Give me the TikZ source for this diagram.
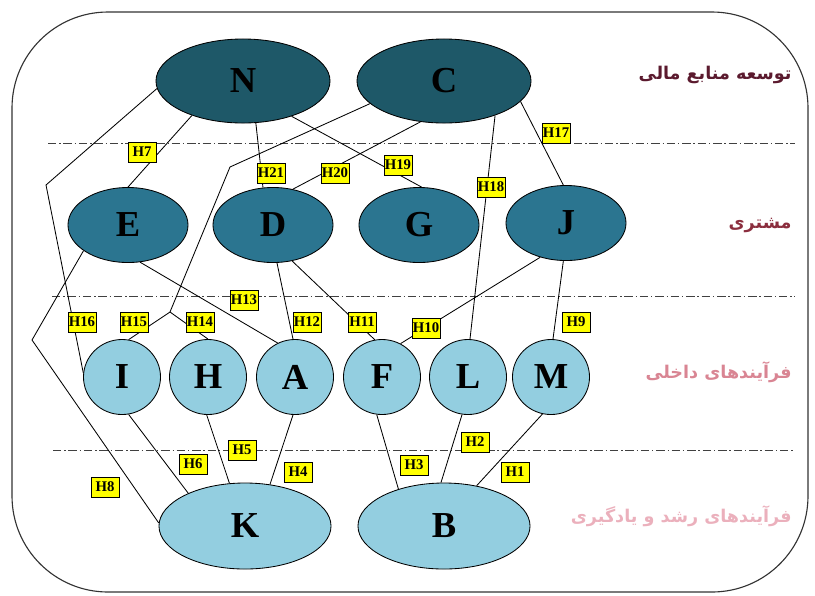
\documentclass[tikz,border=0pt]{standalone}
\usepackage{fontspec}
\setmainfont{Liberation Serif}
\newfontfamily\arabicfont[Script=Arabic]{DejaVu Sans}
\TeXXeTstate=1
\usepackage{tikz}
\usetikzlibrary{shapes.geometric}
\definecolor{topteal}{HTML}{1E5868}
\definecolor{midteal}{HTML}{2B7590}
\definecolor{lightteal}{HTML}{93CEE0}
\definecolor{hypyellow}{HTML}{FFFF00}
\definecolor{finred}{HTML}{5B1A2E}
\definecolor{custred}{HTML}{8B2E3E}
\definecolor{procpink}{HTML}{D98593}
\definecolor{learnpink}{HTML}{EBB0BC}

\begin{document}
\begin{tikzpicture}[x=0.025cm,y=-0.025cm,
  goal/.style={ellipse,draw=black,line width=0.6pt,inner sep=0pt,font=\fontsize{26}{26}\selectfont\bfseries},
  fin/.style={goal,fill=topteal,minimum width=4.35cm,minimum height=2.1cm},
  cust/.style={goal,fill=midteal,minimum width=3cm,minimum height=1.875cm},
  proc/.style={goal,fill=lightteal,minimum width=1.925cm,minimum height=1.875cm},
  learn/.style={goal,fill=lightteal,minimum width=4.3cm,minimum height=2.15cm},
  hyp/.style={draw=black,fill=hypyellow,line width=0.5pt,inner sep=0.5pt,minimum width=0.7cm,minimum height=0.5cm,font=\fontsize{10.5}{10.5}\selectfont\bfseries},
  layer/.style={anchor=east,inner sep=0pt,font=\arabicfont\bfseries\fontsize{12.5}{12.5}\selectfont},
  sep/.style={line width=0.6pt,black!75,dash pattern=on 6pt off 2pt on 1pt off 2pt},
  every path/.append style={line width=0.6pt}]
\useasboundingbox (0,0) rectangle (815,595);
\draw[line width=0.8pt,black!80,rounded corners=2.4cm] (12,12) rectangle (808,592);
\draw[sep] (48,143) to (795,143);
\draw[sep] (52,296) to (795,296);
\draw[sep] (53,450) to (795,450);
\node[layer,text=finred] (lfin) at (792,75) {\beginR توسعه منابع مالی\endR};
\node[layer,text=custred] (lcust) at (792,225) {\beginR مشتری\endR};
\node[layer,text=procpink] (lproc) at (792,372) {\beginR فرآیندهای داخلی\endR};
\node[layer,text=learnpink] (llearn) at (792,516) {\beginR فرآیندهای رشد و یادگیری\endR};
\node[fin] (N) at (243,81) {N};
\node[fin] (C) at (444,81) {C};
\node[cust] (E) at (128,225) {E};
\node[cust] (D) at (273,225) {D};
\node[cust] (G) at (419,225) {G};
\node[cust] (J) at (566,223) {J};
\node[proc] (I) at (122,377) {I};
\node[proc] (H) at (208,377) {H};
\node[proc] (A) at (295,377) {A};
\node[proc] (F) at (382,377) {F};
\node[proc] (L) at (468,377) {L};
\node[proc] (M) at (551,377) {M};
\node[learn] (K) at (245,526) {K};
\node[learn] (B) at (444,526) {B};
\coordinate (b8) at (32,340);
\coordinate (b16) at (46,185);
\coordinate (c1) at (230,167);
\coordinate (c2) at (170,312);
\draw[-] (M.257) to (B.51); %H1
\draw[-] (L.261) to (B.94); %H2
\draw[-] (F.262) to (B.141); %H3
\draw[-] (A.267) to (K.59); %H4
\draw[-] (H.268) to (K.110); %H5
\draw[-] (I.280) to (K.150); %H6
\draw[-] (N.214) to (E.90); %H7
\draw[-] (E.210) -- (b8) -- (K.178); %H8
\draw[-] (J.266) to (M.87); %H9
\draw[-] (J.233) to (F.61); %H10
\draw[-] (D.298) to (F.101); %H11
\draw[-] (D.276) to (A.93); %H12
\draw[-] (E.288) to (A.117); %H13
\draw[-] (C.197) -- (c1) -- (c2) -- (H.90); %H14
\draw[-] (c2) -- (I.80); %H15
\draw[-] (N.185) -- (b16) -- (I.174); %H16
\draw[-] (C.345) to (J.94); %H17
\draw[-] (C.326) to (L.87); %H18
\draw[-] (N.324) to (G.86); %H19
\draw[-] (C.240) to (D.61); %H20
\draw[-] (N.287) to (D.105); %H21
\node[hyp] (h1) at (515,472) {H1};
\node[hyp] (h2) at (475,442) {H2};
\node[hyp] (h3) at (414,465) {H3};
\node[hyp] (h4) at (298,472) {H4};
\node[hyp] (h5) at (242,450) {H5};
\node[hyp] (h6) at (193,464) {H6};
\node[hyp] (h7) at (142,152) {H7};
\node[hyp] (h8) at (105,487) {H8};
\node[hyp] (h9) at (576,322) {H9};
\node[hyp] (h10) at (426,328) {H10};
\node[hyp] (h11) at (362,322) {H11};
\node[hyp] (h12) at (307,322) {H12};
\node[hyp] (h13) at (244,300) {H13};
\node[hyp] (h14) at (200,322) {H14};
\node[hyp] (h15) at (134,322) {H15};
\node[hyp] (h16) at (82,322) {H16};
\node[hyp] (h17) at (556,133) {H17};
\node[hyp] (h18) at (491,187) {H18};
\node[hyp] (h19) at (398,165) {H19};
\node[hyp] (h20) at (335,173) {H20};
\node[hyp] (h21) at (271,173) {H21};
\end{tikzpicture}
\end{document}
